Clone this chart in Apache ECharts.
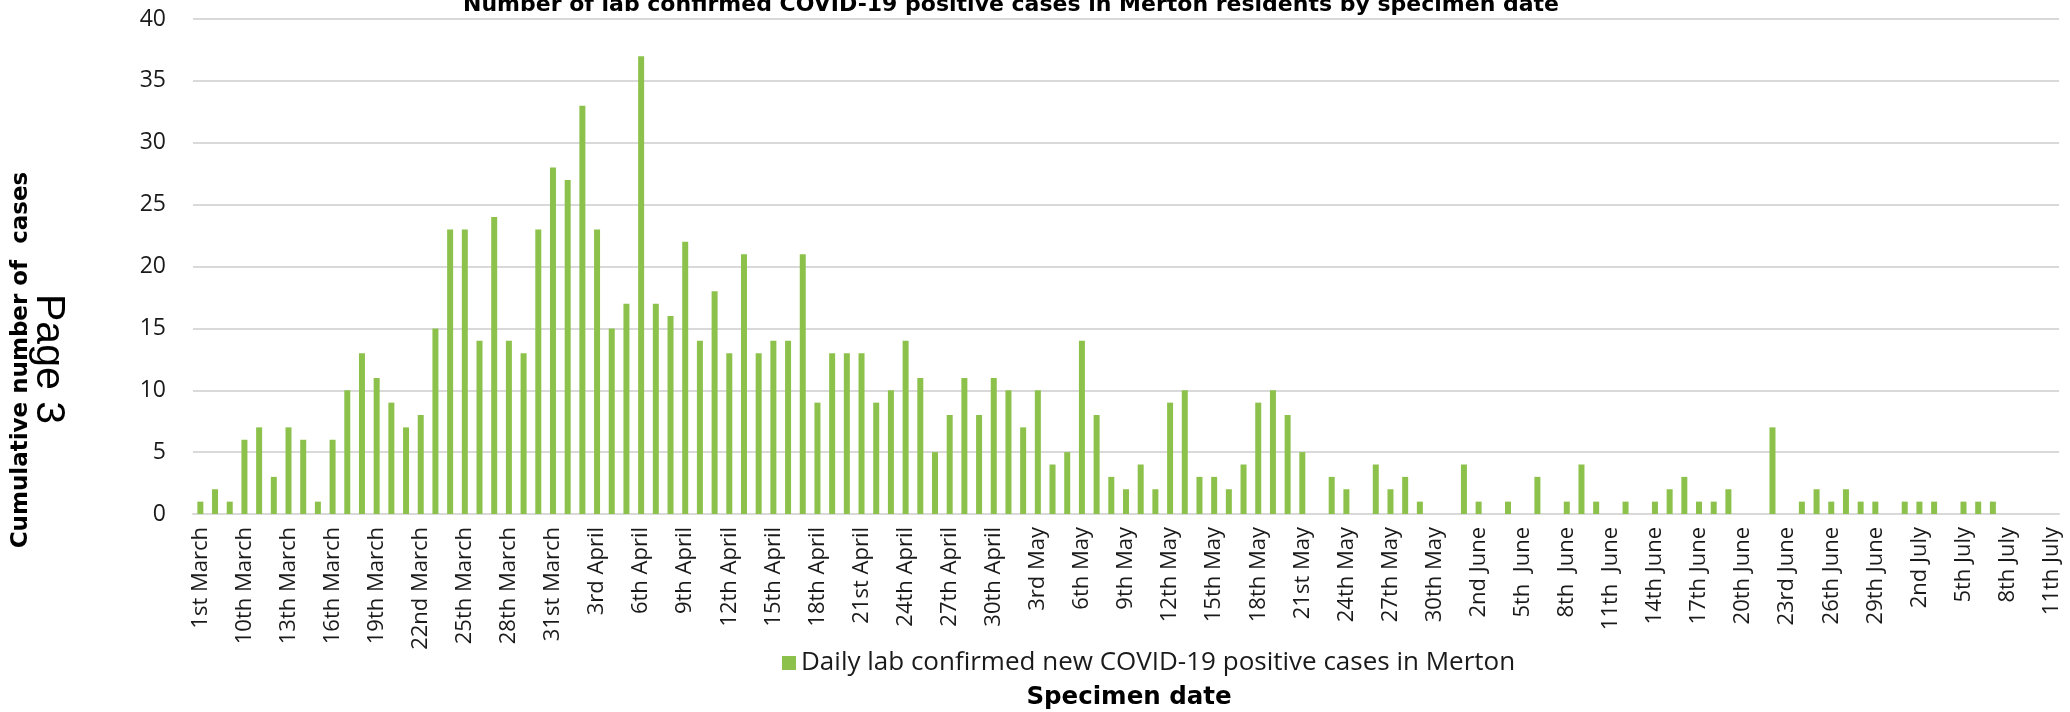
<!DOCTYPE html>
<html>
<head>
<meta charset="utf-8">
<script src="https://cdn.jsdelivr.net/npm/echarts@6/dist/echarts.min.js"></script>
<style>
  html, body { margin: 0; padding: 0; background: #ffffff; }
  #chart { width: 2070px; height: 712px; }
</style>
</head>
<body>
<div id="chart"></div>
<script>
const marchDays = ['1st March', '8th March', '9th March', '10th March', '11th March', '12th March', '13th March',
  '14th March', '15th March', '16th March', '17th March', '18th March', '19th March', '20th March', '21st March',
  '22nd March', '23rd March', '24th March', '25th March', '26th March', '27th March', '28th March', '29th March',
  '30th March', '31st March']
const aprilDays = ['1st April', '2nd April', '3rd April', '4th April', '5th April', '6th April', '7th April',
  '8th April', '9th April', '10th April', '11th April', '12th April', '13th April', '14th April', '15th April',
  '16th April', '17th April', '18th April', '19th April', '20th April', '21st April', '22nd April', '23rd April',
  '24th April', '25th April', '26th April', '27th April', '28th April', '29th April', '30th April']
const mayDays = ['1st May', '2nd May', '3rd May', '4th May', '5th May', '6th May', '7th May', '8th May', '9th May',
  '10th May', '11th May', '12th May', '13th May', '14th May', '15th May', '16th May', '17th May', '18th May',
  '19th May', '20th May', '21st May', '22nd May', '23rd May', '24th May', '25th May', '26th May', '27th May',
  '28th May', '29th May', '30th May', '31st May']
const juneDays = ['1st June', '2nd June', '3rd June', '4th June', '5th  June', '6th June', '7th June', '8th  June',
  '9th June', '10th June', '11th  June', '12th June', '13th June', '14th June', '15th June', '16th June',
  '17th June', '18th June', '19th June', '20th June', '21st June', '22nd June', '23rd June', '24th June',
  '25th June', '26th June', '27th June', '28th June', '29th June', '30th June']
const julyDays = ['1st July', '2nd July', '3rd July', '4th July', '5th July', '6th July', '7th July', '8th July',
  '9th July', '10th July', '11th July']

const marchCases = [1, 2, 1, 6, 7, 3, 7, 6, 1, 6, 10, 13, 11, 9, 7, 8, 15, 23, 23, 14, 24, 14, 13, 23, 28]
const aprilCases = [27, 33, 23, 15, 17, 37, 17, 16, 22, 14, 18, 13, 21, 13, 14, 14, 21, 9, 13, 13,
  13, 9, 10, 14, 11, 5, 8, 11, 8, 11]
const mayCases = [10, 7, 10, 4, 5, 14, 8, 3, 2, 4, 2, 9, 10, 3, 3, 2, 4, 9, 10, 8,
  5, 0, 3, 2, 0, 4, 2, 3, 1, 0, 0]
const juneCases = [4, 1, 0, 1, 0, 3, 0, 1, 4, 1, 0, 1, 0, 1, 2, 3, 1, 1, 2, 0,
  0, 7, 0, 1, 2, 1, 2, 1, 1, 0]
const julyCases = [1, 1, 1, 0, 1, 1, 1, 0, 0, 0, 0]

const categories = [...marchDays, ...aprilDays, ...mayDays, ...juneDays, ...julyDays]
const dailyCases = [...marchCases, ...aprilCases, ...mayCases, ...juneCases, ...julyCases]

const titleText = 'Number of lab confirmed COVID-19 positive cases in Merton residents by specimen date'
const seriesName = 'Daily lab confirmed new COVID-19 positive cases in Merton'
const yAxisTitle = 'Cumulative number of  cases'
const xAxisTitle = 'Specimen date'
const pageMark = 'Page 3'

const chart = echarts.init(document.getElementById('chart'))

const option = {
  backgroundColor: '#ffffff',
  animation: false,
  grid: {
    left: 193,
    right: 11,
    top: 19,
    bottom: 198,
  },
  legend: {
    data: [seriesName],
    left: 777,
    top: 645,
    icon: 'rect',
    itemWidth: 14,
    itemHeight: 14,
    textStyle: {
      fontFamily: 'Open Sans',
      fontSize: 26,
      color: '#1a1a1a',
      padding: [0, 0, 0, 0],
    },
  },
  xAxis: {
    type: 'category',
    data: categories,
    boundaryGap: true,
    axisTick: { show: false },
    axisLine: {
      lineStyle: { color: '#d9d9d9', width: 2 },
    },
    axisLabel: {
      interval: 2,
      rotate: 90,
      margin: 13,
      fontFamily: 'Open Sans',
      fontSize: 22,
      color: '#1a1a1a',
    },
  },
  yAxis: {
    type: 'value',
    min: 0,
    max: 40,
    interval: 5,
    axisLine: { show: false },
    axisTick: { show: false },
    axisLabel: {
      margin: 27,
      fontFamily: 'Open Sans',
      fontSize: 23,
      color: '#1a1a1a',
    },
    splitLine: {
      lineStyle: { color: '#d9d9d9', width: 2 },
    },
  },
  graphic: [
    {
      type: 'text',
      x: 1011,
      y: 5,
      style: {
        text: titleText,
        fontFamily: 'DejaVu Sans',
        fontWeight: 'bold',
        fontSize: 22,
        fill: '#000000',
        align: 'center',
        verticalAlign: 'middle',
      },
    },
    {
      type: 'text',
      x: 21,
      y: 360,
      rotation: Math.PI / 2,
      style: {
        text: yAxisTitle,
        fontFamily: 'DejaVu Sans',
        fontWeight: 'bold',
        fontSize: 23,
        fill: '#000000',
        align: 'center',
        verticalAlign: 'middle',
      },
    },
    {
      type: 'text',
      x: 48,
      y: 359,
      rotation: -Math.PI / 2,
      style: {
        text: pageMark,
        fontFamily: 'Liberation Sans',
        fontSize: 41,
        fill: '#000000',
        align: 'center',
        verticalAlign: 'middle',
      },
    },
    {
      type: 'text',
      x: 1129,
      y: 698,
      style: {
        text: xAxisTitle,
        fontFamily: 'DejaVu Sans',
        fontWeight: 'bold',
        fontSize: 24.5,
        fill: '#000000',
        align: 'center',
        verticalAlign: 'middle',
      },
    },
  ],
  series: [
    {
      name: seriesName,
      type: 'bar',
      data: dailyCases,
      barWidth: 6,
      itemStyle: {
        color: '#8cc24b',
      },
    },
  ],
}

chart.setOption(option)
</script>
</body>
</html>
